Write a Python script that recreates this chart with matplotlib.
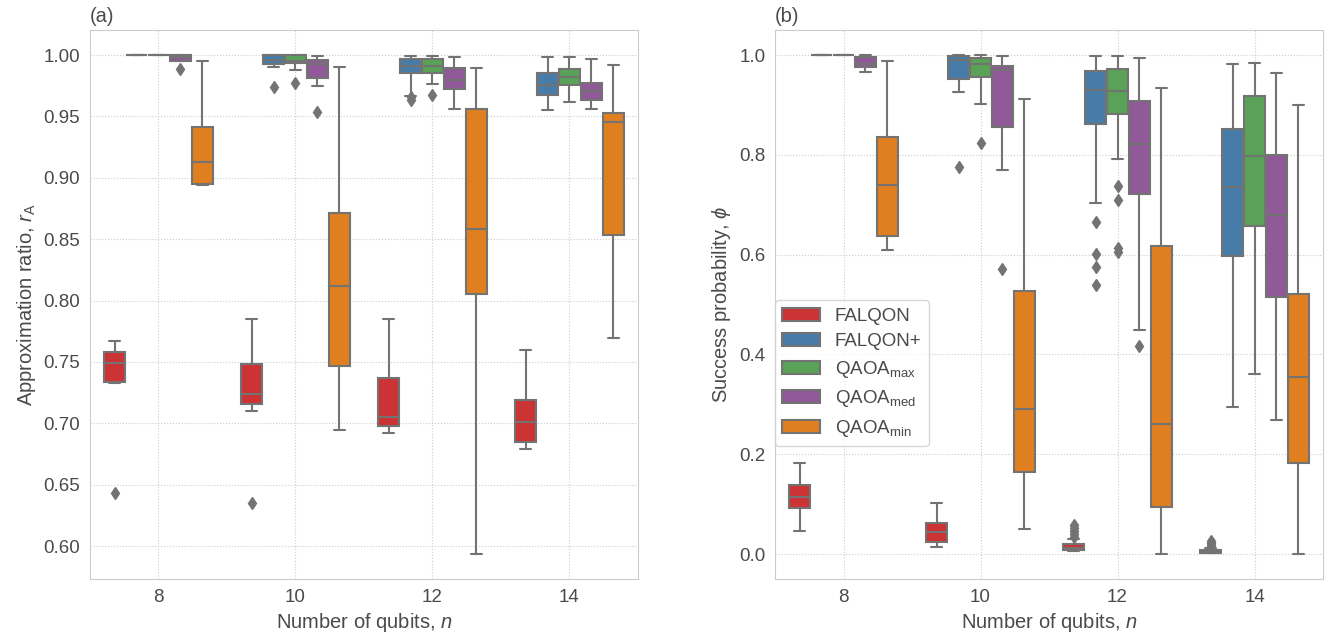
import matplotlib.pyplot as plt
import seaborn as sns
from matplotlib.patches import Patch

sizes = [8, 10, 12, 14]
methods = ['FALQON', 'FALQON+', r'QAOA$_\mathrm{max}$', r'QAOA$_\mathrm{med}$', r'QAOA$_\mathrm{min}$']

# box stats for each n: (whisker low, q1, median, q3, whisker high)
# (a) approximation ratio
ra_falqon = [(0.733, 0.734, 0.749, 0.758, 0.767),
             (0.710, 0.716, 0.724, 0.748, 0.785),
             (0.692, 0.698, 0.705, 0.737, 0.785),
             (0.679, 0.685, 0.701, 0.719, 0.760)]
ra_falqon_fl = [[0.643], [0.635], [], []]
ra_falqonp = [(1.0, 1.0, 1.0, 1.0, 1.0),
              (0.990, 0.993, 0.996, 1.0, 1.0),
              (0.967, 0.985, 0.991, 0.9965, 0.9995),
              (0.955, 0.9675, 0.9756, 0.985, 0.9986)]
ra_falqonp_fl = [[], [0.974], [0.966, 0.963], []]
ra_qmax = [(1.0, 1.0, 1.0, 1.0, 1.0),
           (0.988, 0.9935, 0.9955, 1.0, 1.0),
           (0.976, 0.985, 0.991, 0.9965, 0.9995),
           (0.9615, 0.9756, 0.9824, 0.9886, 0.9986)]
ra_qmax_fl = [[], [0.977], [0.9675], []]
ra_qmed = [(0.995, 0.9955, 0.9985, 1.0, 1.0),
           (0.975, 0.9816, 0.993, 0.996, 0.9992),
           (0.956, 0.972, 0.980, 0.9897, 0.9986),
           (0.9558, 0.9634, 0.9707, 0.9775, 0.9965)]
ra_qmed_fl = [[0.989], [0.954], [], []]
ra_qmin = [(0.894, 0.895, 0.913, 0.941, 0.9954),
           (0.6946, 0.747, 0.8116, 0.8715, 0.9905),
           (0.5935, 0.8057, 0.8583, 0.956, 0.9897),
           (0.7697, 0.8537, 0.9458, 0.9526, 0.9919)]
ra_qmin_fl = [[], [], [], []]

# (b) success probability
sp_falqon = [(0.047, 0.093, 0.115, 0.138, 0.182),
             (0.015, 0.025, 0.045, 0.063, 0.103),
             (0.007, 0.009, 0.013, 0.021, 0.030),
             (0.002, 0.003, 0.005, 0.008, 0.012)]
sp_falqon_fl = [[], [], [0.035, 0.040, 0.047, 0.052, 0.058], [0.015, 0.019, 0.023, 0.027]]
sp_falqonp = [(1.0, 1.0, 1.0, 1.0, 1.0),
              (0.926, 0.951, 0.990, 0.998, 1.0),
              (0.704, 0.861, 0.930, 0.969, 0.998),
              (0.295, 0.597, 0.735, 0.852, 0.983)]
sp_falqonp_fl = [[], [0.775], [0.665, 0.602, 0.575, 0.540], []]
sp_qmax = [(1.0, 1.0, 1.0, 1.0, 1.0),
           (0.902, 0.955, 0.983, 0.995, 1.0),
           (0.792, 0.882, 0.928, 0.973, 0.999),
           (0.360, 0.658, 0.798, 0.917, 0.985)]
sp_qmax_fl = [[], [0.823], [0.737, 0.709, 0.613, 0.605], []]
sp_qmed = [(0.965, 0.977, 0.983, 0.997, 1.0),
           (0.770, 0.855, 0.970, 0.979, 0.998),
           (0.449, 0.722, 0.822, 0.908, 0.995),
           (0.269, 0.515, 0.679, 0.800, 0.963)]
sp_qmed_fl = [[], [0.572], [0.417], []]
sp_qmin = [(0.609, 0.637, 0.739, 0.835, 0.989),
           (0.050, 0.165, 0.291, 0.527, 0.911),
           (0.0, 0.095, 0.260, 0.618, 0.933),
           (0.0, 0.183, 0.355, 0.521, 0.900)]
sp_qmin_fl = [[], [], [], []]

sns.set_style('whitegrid', {'grid.linestyle': ':'})
plt.rcParams['font.family'] = ['Liberation Sans', 'DejaVu Sans']
plt.rcParams['mathtext.fontset'] = 'custom'
plt.rcParams['mathtext.rm'] = 'Liberation Sans'
plt.rcParams['mathtext.it'] = 'Liberation Sans:italic'
txt = '#4a4a4a'
plt.rcParams['text.color'] = txt
plt.rcParams['axes.labelcolor'] = txt
plt.rcParams['xtick.color'] = txt
plt.rcParams['ytick.color'] = txt

colors = sns.color_palette('Set1', 5, desat=0.75)
gray = '#737373'
lw = 1.5
offsets = [-0.32, -0.16, 0.0, 0.16, 0.32]


def draw(ax, stats, fliers):
    for j in range(len(methods)):
        bxps = []
        for s, f in zip(stats[j], fliers[j]):
            lo, q1, med, q3, hi = s
            bxps.append(dict(whislo=lo, q1=q1, med=med, q3=q3, whishi=hi, fliers=f))
        pos = [i + offsets[j] for i in range(len(sizes))]
        ax.bxp(bxps, positions=pos, widths=0.1568, patch_artist=True, manage_ticks=False,
               boxprops=dict(facecolor=colors[j], edgecolor=gray, linewidth=lw),
               medianprops=dict(color=gray, linewidth=lw),
               whiskerprops=dict(color=gray, linewidth=lw),
               capprops=dict(color=gray, linewidth=lw),
               flierprops=dict(marker='d', markerfacecolor=gray, markeredgecolor=gray,
                               markersize=6, linestyle='none'))
    ax.set_xticks(range(len(sizes)))
    ax.set_xticklabels(sizes)
    ax.set_xlim(-0.5, len(sizes) - 0.5)
    ax.tick_params(labelsize=13.5)
    ax.set_xlabel('Number of qubits, $n$', fontsize=14.5)


fig, (ax1, ax2) = plt.subplots(1, 2, figsize=(13.29, 6.4), dpi=100)
plt.subplots_adjust(left=0.0677, right=0.9955, bottom=0.0953, top=0.953, wspace=0.25)

draw(ax1, [ra_falqon, ra_falqonp, ra_qmax, ra_qmed, ra_qmin],
     [ra_falqon_fl, ra_falqonp_fl, ra_qmax_fl, ra_qmed_fl, ra_qmin_fl])
ax1.set_ylabel(r'Approximation ratio, $r_\mathrm{A}$', fontsize=14.5)
ax1.set_title('(a)', loc='left', fontsize=14.5)

draw(ax2, [sp_falqon, sp_falqonp, sp_qmax, sp_qmed, sp_qmin],
     [sp_falqon_fl, sp_falqonp_fl, sp_qmax_fl, sp_qmed_fl, sp_qmin_fl])
ax2.set_ylabel(r'Success probability, $\phi$', fontsize=14.5)
ax2.set_title('(b)', loc='left', fontsize=14.5)

handles = [Patch(facecolor=c, edgecolor=gray, linewidth=lw, label=m) for c, m in zip(colors, methods)]
ax2.legend(handles=handles, loc='upper left', bbox_to_anchor=(0.0, 0.508), borderaxespad=0,
           fontsize=13.5, labelspacing=0.45)

plt.savefig('out.png')
